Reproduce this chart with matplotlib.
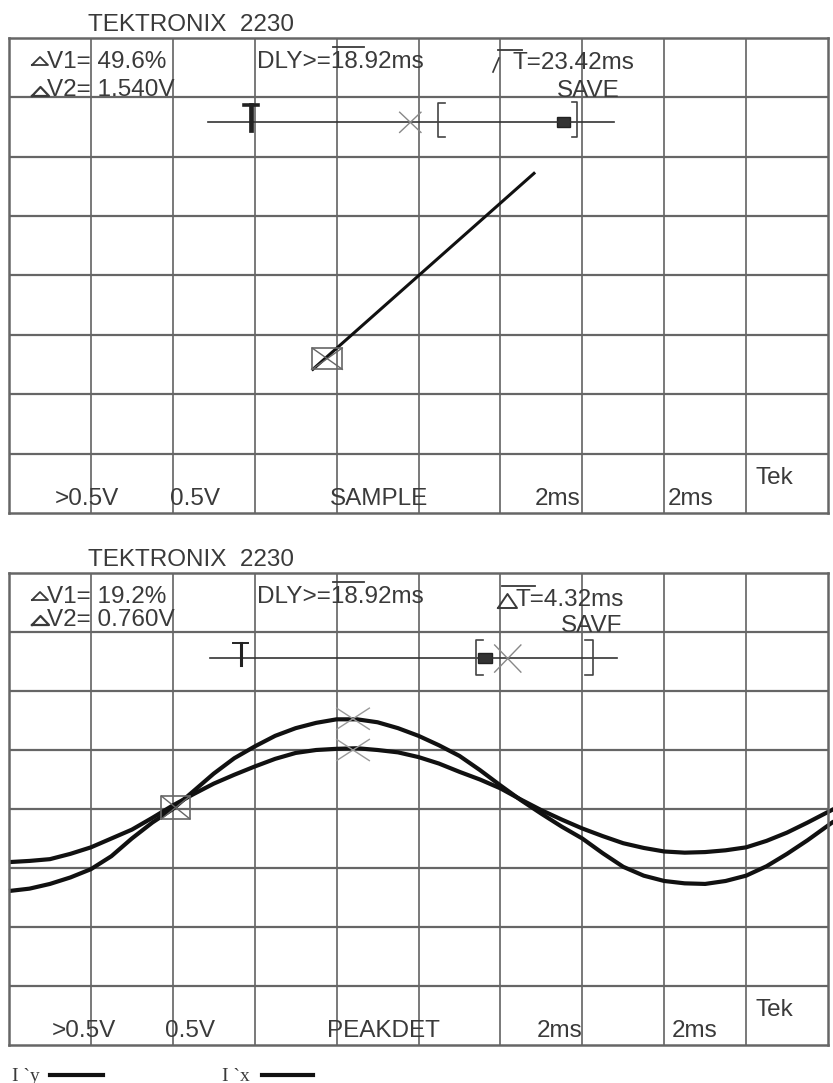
import matplotlib

matplotlib.use("Agg")
import matplotlib.pyplot as plt

W, H = 833, 1083
FONT = ["Liberation Sans", "DejaVu Sans"]
SERIF = ["Liberation Serif", "DejaVu Serif"]
INK = "#3a3a3a"
GRID = "#555555"

# screen 1: x-y cursor trace (divisions)
top_trace_x = [3.71, 6.41]
top_trace_y = [2.42, 5.72]

# screen 2: two sine traces (divisions)
wave_x = [0.0, 0.25, 0.5, 0.75, 1.0, 1.25, 1.5, 1.75, 2.0, 2.25, 2.5, 2.75,
          3.0, 3.25, 3.5, 3.75, 4.0, 4.25, 4.5, 4.75, 5.0, 5.25, 5.5, 5.75,
          6.0, 6.25, 6.5, 6.75, 7.0, 7.25, 7.5, 7.75, 8.0, 8.25, 8.5, 8.75,
          9.0, 9.25, 9.5, 9.75, 10.0, 10.07]
wave_a_y = [2.61, 2.65, 2.73, 2.84, 2.98, 3.2, 3.5, 3.77, 4.0, 4.3, 4.6, 4.86,
            5.06, 5.24, 5.37, 5.46, 5.52, 5.52, 5.47, 5.37, 5.24, 5.08, 4.9, 4.66,
            4.4, 4.15, 3.92, 3.7, 3.5, 3.25, 3.02, 2.87, 2.78, 2.74, 2.73, 2.78,
            2.87, 3.03, 3.24, 3.47, 3.72, 3.79]
wave_b_y = [3.1, 3.12, 3.15, 3.24, 3.35, 3.5, 3.65, 3.85, 4.06, 4.25, 4.43, 4.58,
            4.72, 4.85, 4.95, 5.0, 5.02, 5.03, 5.0, 4.96, 4.88, 4.77, 4.63, 4.5,
            4.35, 4.16, 3.98, 3.82, 3.67, 3.54, 3.42, 3.34, 3.28, 3.26, 3.27, 3.3,
            3.35, 3.46, 3.6, 3.77, 3.95, 4.0]

top_readout = ["V1= 49.6%", "V2= 1.540V", "DLY>=18.92ms", "T=23.42ms", "SAVE"]
bot_readout = ["V1= 19.2%", "V2= 0.760V", "DLY>=18.92ms", "T=4.32ms", "SAVF"]
top_footer = [">0.5V", "0.5V", "SAMPLE", "2ms", "2ms"]
bot_footer = [">0.5V", "0.5V", "PEAKDET", "2ms", "2ms"]
footer_x_top = [55, 170, 330, 535, 668]
footer_x_bot = [52, 165, 327, 537, 672]


def _screen(fig, top_px, bottom_px):
    ax = fig.add_axes([9 / W, 1 - bottom_px / H, 819 / W, (bottom_px - top_px) / H])
    ax.set_xlim(0, 10)
    ax.set_ylim(0, 8)
    ax.set_xticks([])
    ax.set_yticks([])
    for s in ax.spines.values():
        s.set_color("#666666")
        s.set_linewidth(1.8)
    for i in range(1, 10):
        ax.axvline(i, color=GRID, lw=1.1)
    for j in range(1, 8):
        ax.axhline(j, color="#666666", lw=1.6)
    return ax


def _xbox(ax, x0, x1, y0, y1, color="#666666"):
    ax.plot([x0, x1, x1, x0, x0], [y0, y0, y1, y1, y0], color=color, lw=1.2)
    ax.plot([x0, x1], [y0, y1], color=color, lw=1.0)
    ax.plot([x0, x1], [y1, y0], color=color, lw=1.0)


def _cross(ax, xc, yc, dx, dy, color="#888888"):
    ax.plot([xc - dx, xc + dx], [yc - dy, yc + dy], color=color, lw=1.0)
    ax.plot([xc - dx, xc + dx], [yc + dy, yc - dy], color=color, lw=1.0)


def _tee(ax, xc, y_top, y_bot, half, lw):
    ax.plot([xc - half, xc + half], [y_top, y_top], color="#222222", lw=lw)
    ax.plot([xc, xc], [y_top, y_bot], color="#222222", lw=lw + 0.8)


def _bracket(ax, x_edge, x_tick, y0, y1):
    ax.plot([x_tick, x_edge, x_edge, x_tick], [y1, y1, y0, y0], color="#444444", lw=1.2)


def _txt(ov, x, y, s, size=17.5, **kw):
    ov.text(x, y, s, fontsize=size, family=kw.pop("family", FONT), color=kw.pop("color", INK),
            ha="left", va="baseline", **kw)


def _tri(ov, x0, y_base, w, h, lw=1.3):
    ov.plot([x0, x0 + w / 2, x0 + w, x0], [y_base, y_base - h, y_base, y_base], color=INK, lw=lw)


fig = plt.figure(figsize=(W / 100, H / 100), dpi=100)

ax1 = _screen(fig, 38, 513)
ax2 = _screen(fig, 573, 1045)

# screen 1 marks
ax1.plot(top_trace_x, top_trace_y, color="#111111", lw=2.2)
_xbox(ax1, 3.70, 4.07, 2.42, 2.78)
ax1.plot([2.43, 7.39], [6.58, 6.58], color="#333333", lw=1.2)
_tee(ax1, 2.955, 6.87, 6.45, 0.08, 2.6)
_cross(ax1, 4.9, 6.58, 0.13, 0.17)
_bracket(ax1, 5.24, 5.32, 6.33, 6.90)
ax1.add_patch(plt.Rectangle((6.69, 6.50), 0.16, 0.17, facecolor="#333333", edgecolor="#222222"))
_bracket(ax1, 6.93, 6.87, 6.33, 6.92)

# screen 2 marks
for ys in (wave_a_y, wave_b_y):
    ax2.plot(wave_x, ys, color="#111111", lw=3.0, clip_on=False,
             solid_joinstyle="round", solid_capstyle="butt")
_xbox(ax2, 1.86, 2.21, 3.83, 4.22)
_cross(ax2, 4.2, 5.53, 0.2, 0.18, color="#999999")
_cross(ax2, 4.2, 5.0, 0.2, 0.18, color="#999999")
ax2.plot([2.45, 7.42], [6.56, 6.56], color="#333333", lw=1.2)
_tee(ax2, 2.83, 6.81, 6.44, 0.09, 1.4)
_bracket(ax2, 5.70, 5.79, 6.27, 6.86)
ax2.add_patch(plt.Rectangle((5.73, 6.47), 0.17, 0.17, facecolor="#333333", edgecolor="#222222"))
_cross(ax2, 6.09, 6.55, 0.16, 0.23)
_bracket(ax2, 7.13, 7.03, 6.27, 6.86)

# overlay in pixel coordinates for the screen text
ov = fig.add_axes([0, 0, 1, 1])
ov.set_xlim(0, W)
ov.set_ylim(H, 0)
ov.axis("off")
ov.patch.set_alpha(0)

for dy, readout, footer, fx in [(0, top_readout, top_footer, footer_x_top),
                                (535, bot_readout, bot_footer, footer_x_bot)]:
    _txt(ov, 88, 31 + dy, "TEKTRONIX  2230")
    _tri(ov, 32, 65 + dy, 16, 8)
    _txt(ov, 47, 68 + dy, readout[0])
    _tri(ov, 32, 96 + dy - (6 if dy else 0), 17, 9, lw=1.6)
    _txt(ov, 47, 96 + dy - (5 if dy else 0), readout[1])
    _txt(ov, 257, 68 + dy, readout[2])
    ov.plot([333, 364], [47 + dy, 47 + dy], color=INK, lw=1.3)
    _txt(ov, 516 if dy else 513, 69 + dy + (2 if dy else 0), readout[3])
    _txt(ov, 557 + (4 if dy else 0), 97 + dy, readout[4])
    for x, s in zip(fx, footer):
        _txt(ov, x, 505 + dy - 3 * (dy > 0), s)
    _txt(ov, 756, 484 + dy - 3 * (dy > 0), "Tek")

# delta-T glyphs
ov.plot([493, 499], [72, 58], color=INK, lw=1.2)
ov.plot([498, 522], [50, 50], color=INK, lw=1.3)
_tri(ov, 498, 608, 19, 14, lw=1.4)
ov.plot([502, 535], [586, 586], color=INK, lw=1.3)

# legend under the screens
_txt(ov, 12, 1081, "I `y", size=14, family=SERIF)
ov.plot([50, 103], [1075, 1075], color="#111111", lw=3)
_txt(ov, 222, 1081, "I `x", size=14, family=SERIF)
ov.plot([262, 313], [1075, 1075], color="#111111", lw=3)

fig.savefig("out.png", dpi=100)
